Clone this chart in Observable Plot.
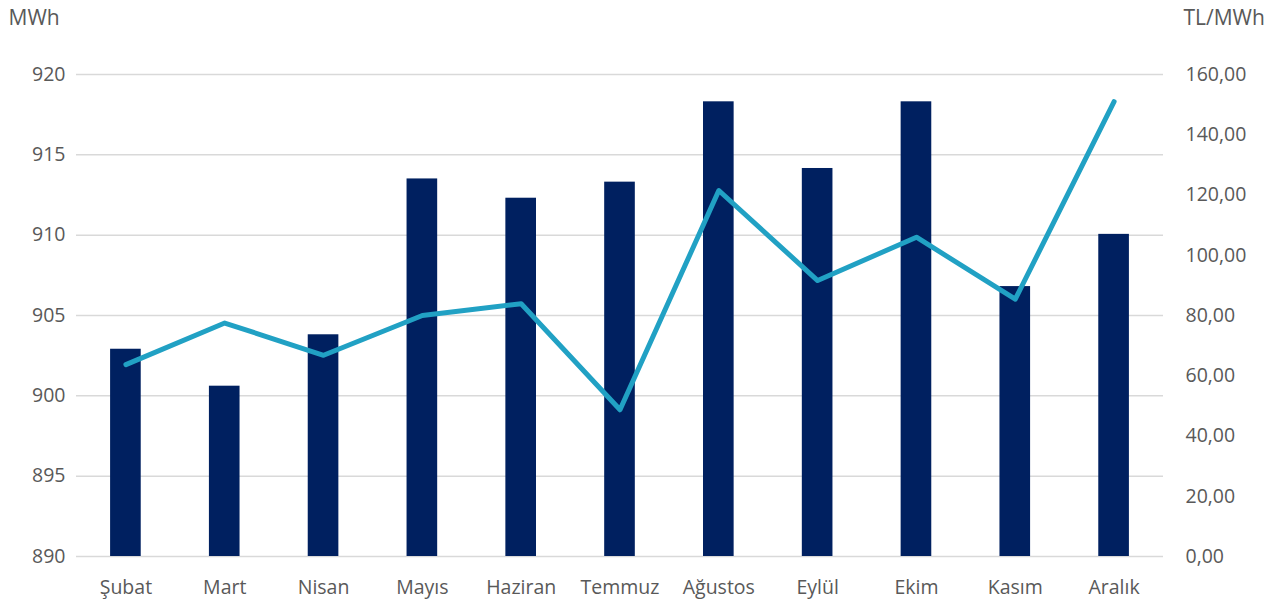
<!DOCTYPE html>
<html>
<head>
<meta charset="utf-8">
<script src="https://cdn.jsdelivr.net/npm/d3@7"></script>
<script src="https://cdn.jsdelivr.net/npm/@observablehq/plot@0.6"></script>
<style>
  body { margin: 0; background: #fff; }
  #chart svg { display: block; }
</style>
</head>
<body>
<div id="chart"></div>
<script>
const months = ["Şubat", "Mart", "Nisan", "Mayıs", "Haziran", "Temmuz", "Ağustos", "Eylül", "Ekim", "Kasım", "Aralık"];
const mwh = [902.9, 900.6, 903.8, 913.5, 912.3, 913.3, 918.3, 914.15, 918.3, 906.8, 910.05];
const price = [63.7, 77.5, 66.8, 80.0, 83.9, 48.7, 121.5, 91.6, 106.0, 85.4, 151.0];
const leftTicks = [890, 895, 900, 905, 910, 915, 920];
const rightTicks = [0, 20, 40, 60, 80, 100, 120, 140, 160];
const leftTitle = "MWh";
const rightTitle = "TL/MWh";

const L0 = 890, L1 = 920, R0 = 0, R1 = 160;
const toLeft = v => L0 + (v - R0) * (L1 - L0) / (R1 - R0);
const fromLeft = v => R0 + (v - L0) * (R1 - R0) / (L1 - L0);

const data = months.map((m, i) => ({month: m, mwh: mwh[i], price: price[i], priceL: toLeft(price[i])}));

const fmtR = d => fromLeft(d).toFixed(2).replace(".", ",");

const chart = Plot.plot({
  width: 1288,
  height: 605,
  marginLeft: 76,
  marginRight: 125,
  marginTop: 74,
  marginBottom: 49,
  style: {fontFamily: "'Open Sans', 'Noto Sans', sans-serif", fontSize: "19.5px", color: "#595959", background: "#fff"},
  x: {domain: months, paddingInner: 0.69, paddingOuter: 0.345, round: false},
  y: {domain: [L0, L1]},
  marks: [
    Plot.gridY(leftTicks, {stroke: "#d9d9d9", strokeOpacity: 1, strokeWidth: 1.5}),
    Plot.barY(data, {x: "month", y1: L0, y2: "mwh", fill: "#002060"}),
    Plot.line(data, {x: "month", y: "priceL", stroke: "#21a1c4", strokeWidth: 5, strokeLinecap: "round", strokeLinejoin: "round"}),
    Plot.axisY({anchor: "left", ticks: leftTicks, tickSize: 0, tickPadding: 11, label: null, fill: "#595959"}),
    Plot.axisY({anchor: "right", ticks: rightTicks.map(toLeft), tickFormat: fmtR, tickSize: 0, tickPadding: 22, label: null, fill: "#595959"}),
    Plot.axisX({tickSize: 0, tickPadding: 24, label: null, fill: "#595959"}),
    Plot.text([leftTitle], {frameAnchor: "top-left", dx: -68, dy: -56, textAnchor: "start", lineAnchor: "middle", fill: "#595959", fontSize: 21}),
    Plot.text([rightTitle], {frameAnchor: "top-right", dx: 20, dy: -56, textAnchor: "start", lineAnchor: "middle", fill: "#595959", fontSize: 21})
  ]
});
document.getElementById("chart").append(chart);
</script>
</body>
</html>
